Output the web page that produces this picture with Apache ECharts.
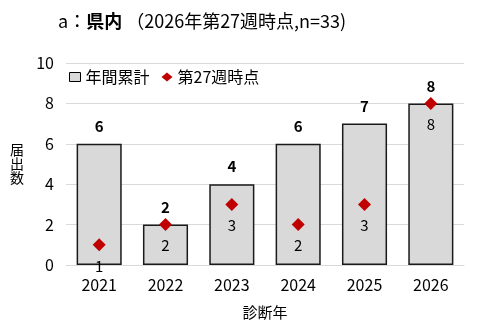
<!DOCTYPE html>
<html><head><meta charset="utf-8">
<script src="https://cdn.jsdelivr.net/npm/echarts@6/dist/echarts.min.js"></script>
<style>html,body{margin:0;padding:0;background:#fff}#c{width:479px;height:325px}</style>
</head><body><div id="c"></div>
<script>
const categories = ['2021','2022','2023','2024','2025','2026'];
const annualTotal = [6, 2, 4, 6, 7, 8];
const week27 = [1, 2, 3, 2, 3, 8];
const yTicks = {min: 0, max: 10, interval: 2};
const F = '"Noto Sans CJK JP", "Noto Sans", sans-serif';
const chart = echarts.init(document.getElementById('c'), null, {renderer: 'canvas'});
chart.setOption({
  animation: false,
  textStyle: {fontFamily: F},
  title: {
    left: 53, top: 7,
    text: '{n|a：}{b|県内}{n| （2026年第27週時点,n=33)}',
    textStyle: {
      fontWeight: 'normal',
      rich: {
        n: {fontSize: 18, color: '#000', fontWeight: 'normal', fontFamily: F},
        b: {fontSize: 18, color: '#000', fontWeight: 'bold', fontFamily: F}
      }
    }
  },
  legend: {
    left: 64, top: 64, itemGap: 12, itemWidth: 11, itemHeight: 9,
    textStyle: {fontSize: 16, color: '#000', fontFamily: F},
    data: [
      {name: '年間累計', icon: 'rect', itemStyle: {color: '#d9d9d9', borderColor: '#000', borderWidth: 1}},
      {name: '第27週時点', icon: 'diamond', itemStyle: {color: '#c00000', opacity: 1}}
    ]
  },
  grid: {left: 66, right: 15, top: 63, bottom: 57},
  xAxis: {
    type: 'category', data: categories,
    axisLine: {show: true, lineStyle: {color: '#d9d9d9'}},
    axisTick: {show: false},
    axisLabel: {fontSize: 16, color: '#000', margin: 12, fontFamily: F},
    name: '診断年', nameLocation: 'middle', nameGap: 40,
    nameTextStyle: {fontSize: 15, color: '#000', fontFamily: F}
  },
  yAxis: {
    type: 'value', min: yTicks.min, max: yTicks.max, interval: yTicks.interval,
    axisLine: {show: false}, axisTick: {show: false},
    splitLine: {lineStyle: {color: '#d9d9d9', width: 1}},
    axisLabel: {fontSize: 16, color: '#000', margin: 12, fontFamily: F},
    name: '届\n出\n数', nameLocation: 'middle', nameRotate: 0, nameGap: 42,
    nameTextStyle: {fontSize: 14, color: '#000', lineHeight: 14, fontFamily: F}
  },
  series: [
    {
      name: '年間累計', type: 'bar', data: annualTotal, barWidth: '68%',
      itemStyle: {color: '#d9d9d9', borderColor: '#1a1a1a', borderWidth: 1.5},
      label: {show: true, position: 'top', distance: 10, fontSize: 15, fontWeight: 'bold', color: '#000', fontFamily: F},
      z: 2
    },
    {
      name: '第27週時点', type: 'scatter', data: week27, symbol: 'diamond', symbolSize: 13,
      itemStyle: {color: '#c00000', opacity: 1},
      label: {show: true, position: 'bottom', distance: 7, fontSize: 15, color: '#000', fontFamily: F},
      z: 3
    }
  ]
});
</script></body></html>
